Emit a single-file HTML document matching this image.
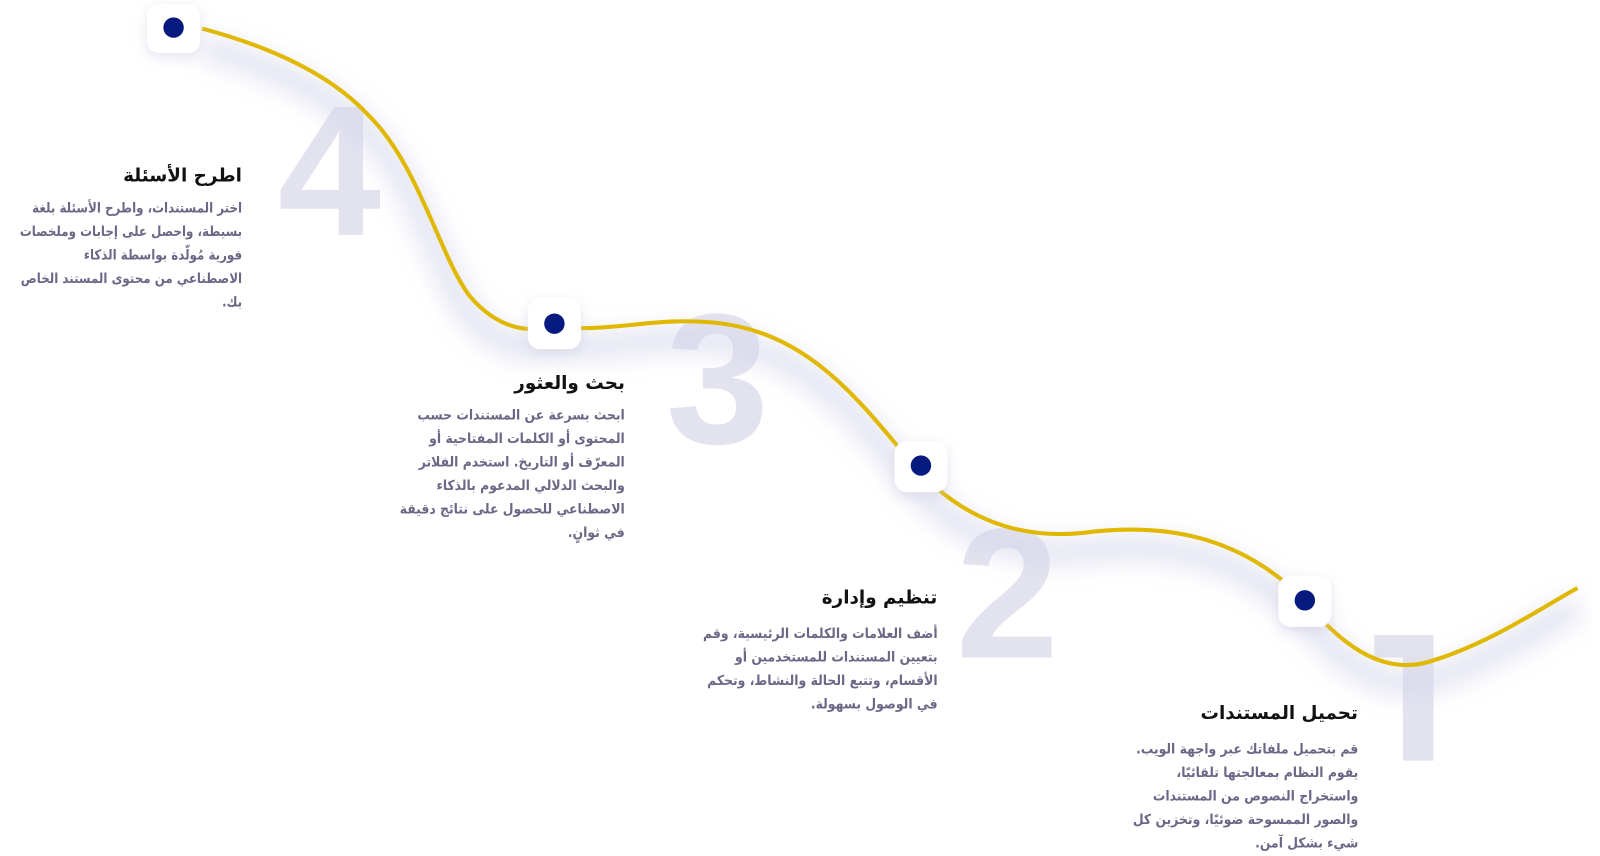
<!DOCTYPE html>
<html><head><meta charset="utf-8"><style>
body{margin:0;width:1600px;height:856px;background:#fff;overflow:hidden;position:relative;font-family:"DejaVu Sans","Liberation Sans",sans-serif}
#w{position:absolute;left:0;top:0;width:1560px;height:835px;transform:scale(1.021);transform-origin:0 0}
.num{position:absolute;font-family:"Liberation Sans",sans-serif;font-weight:bold;color:#e3e3ef;line-height:1}
.blk{position:absolute;direction:rtl;text-align:right;white-space:nowrap}
.blk h3{margin:0 0 8px;font-size:18px;font-weight:bold;color:#111;line-height:24px}
.blk p{margin:0;font-size:13.5px;line-height:23px;color:#6a6886;font-weight:bold;transform:scaleX(0.9);transform-origin:100% 50%}
</style></head><body><div id="w">
<div class="num" style="left:272px;top:76px;font-size:182px">4</div>
<div class="num" style="left:652px;top:280px;font-size:182px">3</div>
<div class="num" style="left:936px;top:490px;font-size:182px">2</div>
<div style="position:absolute;left:1374px;top:622px;width:30px;height:123px;background:#e3e3ef"></div>
<div style="position:absolute;left:1346px;top:622px;width:58px;height:22px;background:#e3e3ef"></div>
<svg width="1560" height="835" style="position:absolute;left:0;top:0">
<defs><filter id="b" x="-20%" y="-20%" width="140%" height="140%"><feGaussianBlur stdDeviation="12"/></filter>
<filter id="s" x="-50%" y="-50%" width="200%" height="200%"><feDropShadow dx="0" dy="4" stdDeviation="6" flood-color="#c8c8e0" flood-opacity="0.5"/></filter></defs>
<path d="M198,28 C280,50 330,80 360,112 C410,160 430,250 460,290 C490,325 520,325 543,320 C600,326 640,310 700,316 C790,325 840,390 890,450 C940,510 1000,528 1060,522 C1150,510 1220,530 1278,588 C1320,640 1360,660 1400,648 C1460,630 1510,595 1545,576" fill="none" stroke="#d4d4ea" stroke-width="22" opacity="0.7" filter="url(#b)" transform="translate(0,18)"/>
<path d="M198,28 C280,50 330,80 360,112 C410,160 430,250 460,290 C490,325 520,325 543,320 C600,326 640,310 700,316 C790,325 840,390 890,450 C940,510 1000,528 1060,522 C1150,510 1220,530 1278,588 C1320,640 1360,660 1400,648 C1460,630 1510,595 1545,576" fill="none" stroke="#e0b800" stroke-width="4"/>
<g filter="url(#s)">
<rect x="144" y="4" width="52" height="48" rx="12" fill="#fff"/>
<rect x="517" y="292" width="52" height="50" rx="12" fill="#fff"/>
<rect x="876" y="432" width="52" height="50" rx="12" fill="#fff"/>
<rect x="1252" y="564" width="52" height="50" rx="12" fill="#fff"/>
</g>
<circle cx="170" cy="27" r="10" fill="#061a80"/>
<circle cx="543" cy="317" r="10" fill="#061a80"/>
<circle cx="902" cy="456" r="10" fill="#061a80"/>
<circle cx="1278" cy="588" r="10" fill="#061a80"/>
</svg>
<div class="blk" style="right:1323px;top:161px"><h3>اطرح الأسئلة</h3><p style="transform:scaleX(0.86)">اختر المستندات، واطرح الأسئلة بلغة<br>بسيطة، واحصل على إجابات وملخصات<br>فورية مُولّدة بواسطة الذكاء<br>الاصطناعي من محتوى المستند الخاص<br>بك.</p></div>
<div class="blk" style="right:948px;top:364px"><h3>بحث والعثور</h3><p>ابحث بسرعة عن المستندات حسب<br>المحتوى أو الكلمات المفتاحية أو<br>المعرّف أو التاريخ. استخدم الفلاتر<br>والبحث الدلالي المدعوم بالذكاء<br>الاصطناعي للحصول على نتائج دقيقة<br>في ثوانٍ.</p></div>
<div class="blk" style="right:642px;top:574px"><h3 style="margin-bottom:12px">تنظيم وإدارة</h3><p>أضف العلامات والكلمات الرئيسية، وقم<br>بتعيين المستندات للمستخدمين أو<br>الأقسام، وتتبع الحالة والنشاط، وتحكم<br>في الوصول بسهولة.</p></div>
<div class="blk" style="right:230px;top:687px"><h3 style="margin-bottom:12px">تحميل المستندات</h3><p>قم بتحميل ملفاتك عبر واجهة الويب.<br>يقوم النظام بمعالجتها تلقائيًا،<br>واستخراج النصوص من المستندات<br>والصور الممسوحة ضوئيًا، وتخزين كل<br>شيء بشكل آمن.</p></div>
</div></body></html>
